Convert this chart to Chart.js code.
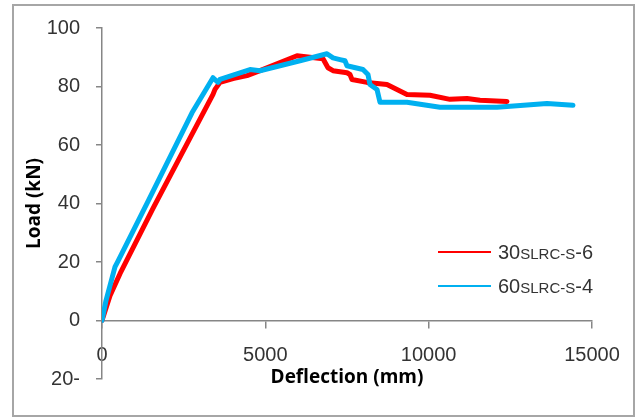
<!DOCTYPE html>
<html>
<head>
<meta charset="utf-8">
<title>Load - Deflection</title>
<script src="https://cdn.jsdelivr.net/npm/chart.js@4/dist/chart.umd.min.js"></script>
<style>
  html, body { margin: 0; padding: 0; background: #fff; }
  #wrap { position: relative; width: 638px; height: 419px; }
</style>
</head>
<body>
<div id="wrap"><canvas id="loadChart"></canvas></div>
<script>
// Values
const seriesNames = ['30SLRC-S-6', '60SLRC-S-4'];

const redDeflection = [0, 245, 551, 1561, 3398, 3459, 3612, 4010, 4438, 4836, 5969, 6765, 6918, 7071, 7500, 7591, 7653, 8112, 8724, 9030, 9336, 10040, 10652, 11173, 11571, 12397];
const redLoad = [0, 8.5, 16, 38.3, 77.3, 79, 81.4, 82.7, 83.7, 85.4, 90.5, 89.5, 86.4, 85.4, 84.7, 84.1, 82.4, 81.4, 80.7, 79, 77.3, 77, 75.6, 75.9, 75.3, 74.9];

const blueDeflection = [0, 122, 398, 490, 1408, 2755, 3398, 3551, 3612, 4530, 4836, 6061, 6887, 7071, 7285, 7438, 7500, 7989, 8142, 8203, 8418, 8510, 9336, 10346, 12091, 13621, 14417];
const blueLoad = [0, 6.8, 18.3, 20.3, 40.7, 71, 83, 81.4, 82.4, 85.8, 85.4, 88.8, 91.2, 89.8, 89.2, 88.8, 87.1, 85.8, 84.1, 80.7, 79, 74.6, 74.6, 72.9, 72.9, 74.2, 73.6];

const xTicks = [0, 5000, 10000, 15000];
const yTicks = [-20, 0, 20, 40, 60, 80, 100];

const axisGray = '#868686';
const labelColor = '#333333';
const tickFont = { family: '"Liberation Sans", Arial, sans-serif', size: 20 };
const titleFont = { family: '"Open Sans", Lato, sans-serif', size: 19, weight: 'bold' };

function toPoints(xs, ys) {
    return xs.map((x, i) => ({ x: x, y: ys[i] }));
}

// white background and outer frame
const framePlugin = {
    id: 'frame',
    beforeDraw(chart) {
        const ctx = chart.ctx;
        ctx.save();
        ctx.fillStyle = '#fff';
        ctx.fillRect(0, 0, chart.width, chart.height);
        ctx.strokeStyle = '#a6a6a6';
        ctx.lineWidth = 2;
        ctx.strokeRect(13, 5, 621, 411);
        ctx.restore();
    }
};

// legend with the "SLRC-S" part written smaller, like the original
const smallCapsLegend = {
    id: 'smallCapsLegend',
    afterDraw(chart) {
        const ctx = chart.ctx;
        const area = chart.chartArea;
        ctx.save();
        chart.data.datasets.forEach((ds, i) => {
            const y = area.top + 224 + i * 34;
            const x0 = area.right - 154;
            ctx.strokeStyle = ds.borderColor;
            ctx.lineWidth = 2;
            ctx.beginPath();
            ctx.moveTo(x0, y);
            ctx.lineTo(x0 + 53, y);
            ctx.stroke();

            const m = ds.label.match(/^(\d+)(SLRC-S)(.*)$/);
            const parts = m ? [[m[1], 20], [m[2], 15], [m[3], 20]] : [[ds.label, 20]];
            let tx = x0 + 60;
            ctx.fillStyle = labelColor;
            ctx.textBaseline = 'alphabetic';
            parts.forEach(p => {
                ctx.font = p[1] + 'px "Liberation Sans", Arial, sans-serif';
                ctx.fillText(p[0], tx, y + 7);
                tx += ctx.measureText(p[0]).width;
            });
        });
        ctx.restore();
    }
};

document.addEventListener('DOMContentLoaded', function() {
    const ctx = document.getElementById('loadChart');

    new Chart(ctx.getContext('2d'), {
        type: 'line',
        data: {
            datasets: [{
                label: seriesNames[0],
                data: toPoints(redDeflection, redLoad),
                borderColor: '#ff0000',
                borderWidth: 5,
                pointRadius: 0,
                tension: 0,
                borderJoinStyle: 'round',
                borderCapStyle: 'round',
                order: 1
            }, {
                label: seriesNames[1],
                data: toPoints(blueDeflection, blueLoad),
                borderColor: '#00b0f0',
                borderWidth: 5,
                pointRadius: 0,
                tension: 0,
                borderJoinStyle: 'round',
                borderCapStyle: 'round',
                order: 0
            }]
        },
        options: {
            responsive: true,
            maintainAspectRatio: false,
            animation: false,
            layout: {
                padding: { left: 14, top: 25, right: 46, bottom: 40 }
            },
            plugins: {
                legend: { display: false },
                tooltip: { enabled: false }
            },
            scales: {
                x: {
                    type: 'linear',
                    position: { y: 0 },
                    min: xTicks[0],
                    max: xTicks[xTicks.length - 1],
                    afterBuildTicks: function(scale) {
                        scale.ticks = xTicks.map(v => ({ value: v }));
                    },
                    grid: {
                        drawOnChartArea: false,
                        drawTicks: true,
                        tickLength: 7,
                        color: axisGray,
                        lineWidth: 1.5
                    },
                    border: { color: axisGray, width: 1.5 },
                    ticks: {
                        padding: 16,
                        color: labelColor,
                        font: tickFont,
                        maxRotation: 0,
                        callback: function(value) {
                            return String(value);
                        }
                    },
                    title: {
                        display: true,
                        text: 'Deflection (mm)',
                        color: '#000',
                        padding: { top: -17, bottom: 0 },
                        font: titleFont
                    }
                },
                y: {
                    type: 'linear',
                    position: 'left',
                    min: yTicks[0],
                    max: yTicks[yTicks.length - 1],
                    afterBuildTicks: function(scale) {
                        scale.ticks = yTicks.map(v => ({ value: v }));
                    },
                    afterFit: function(scale) {
                        scale.width = 88;
                    },
                    grid: {
                        drawOnChartArea: false,
                        drawTicks: true,
                        tickLength: 6,
                        color: axisGray,
                        lineWidth: 1.5
                    },
                    border: { color: axisGray, width: 1.5 },
                    ticks: {
                        padding: 16,
                        color: labelColor,
                        font: tickFont,
                        callback: function(value) {
                            // the original shows the minus sign after the number
                            return value < 0 ? Math.abs(value) + '-' : String(value);
                        }
                    },
                    title: {
                        display: true,
                        text: 'Load (kN)',
                        color: '#000',
                        padding: { top: 9, bottom: 0 },
                        font: titleFont
                    }
                }
            }
        },
        plugins: [framePlugin, smallCapsLegend]
    });
});
</script>
</body>
</html>
